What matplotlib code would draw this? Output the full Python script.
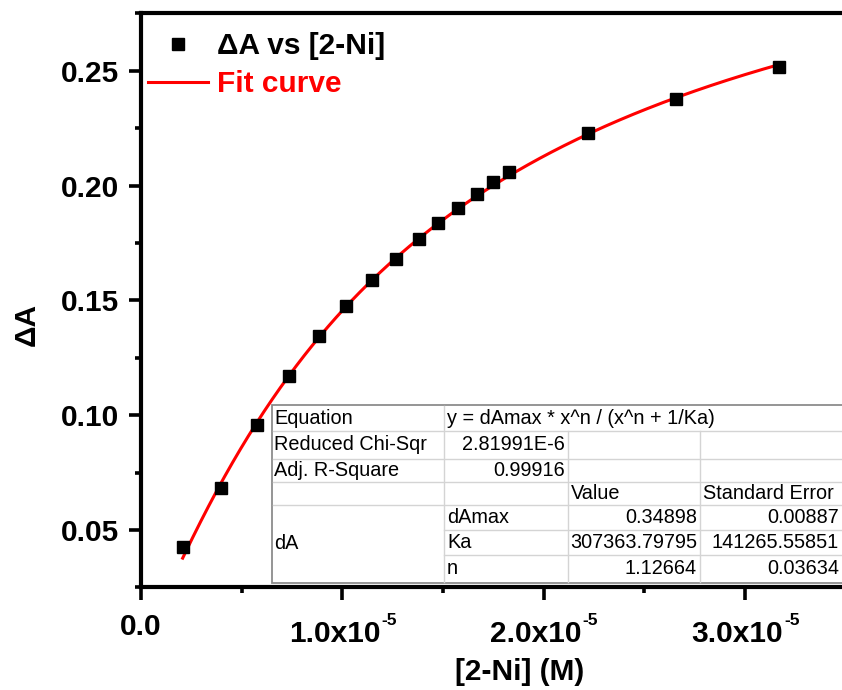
import numpy as np
import matplotlib
matplotlib.use("Agg")
import matplotlib.pyplot as plt
from matplotlib.ticker import MultipleLocator, FuncFormatter
from matplotlib.lines import Line2D
from matplotlib.patches import Rectangle

plt.rcParams["font.family"] = ["Liberation Sans", "DejaVu Sans"]

# measured data: [2-Ni] (M) vs dA
conc = [0.207e-5, 0.397e-5, 0.575e-5, 0.737e-5, 0.884e-5, 1.017e-5, 1.146e-5,
        1.265e-5, 1.380e-5, 1.477e-5, 1.576e-5, 1.668e-5, 1.750e-5, 1.830e-5,
        2.221e-5, 2.658e-5, 3.169e-5]
dA = [0.0427, 0.0682, 0.0957, 0.1172, 0.1346, 0.1475, 0.1589,
      0.1680, 0.1766, 0.1838, 0.1901, 0.1962, 0.2014, 0.2060,
      0.2229, 0.2377, 0.2516]

# x tick values and their labels (mantissa, exponent)
xticks = [0.0, 1e-5, 2e-5, 3e-5]
xtick_mant = ["0.0", "1.0x10", "2.0x10", "3.0x10"]
xtick_exp = ["", "-5", "-5", "-5"]

# fit results (as reported in the table)
equation = "y = dAmax * x^n / (x^n + 1/Ka)"
chi_sqr = "2.81991E-6"
adj_r2 = "0.99916"
param_names = ["dAmax", "Ka", "n"]
param_values = [0.34898, 307363.79795, 1.12664]
param_errors = [0.00887, 141265.55851, 0.03634]

W, H = 842, 690
fig = plt.figure(figsize=(W / 100, H / 100), dpi=100)

def fx(px):
    return px / W

def fy(py):
    return 1 - py / H

ax = fig.add_axes([fx(141), fy(587.4), 704.6 / W, 574.1 / H])

dAmax, Ka, n = param_values
xfit = np.linspace(conc[0], conc[-1], 300)
yfit = dAmax * xfit**n / (xfit**n + 1 / Ka)

ax.plot(xfit, yfit, color="red", lw=2.2, zorder=2)
ax.plot(conc, dA, ls="none", marker="s", ms=8.6, color="black", mec="black", zorder=3)

ax.set_xlim(0, 3.5e-5)
ax.set_ylim(0.025, 0.275)

for side in ["left", "bottom", "top"]:
    ax.spines[side].set_linewidth(3)
ax.spines["right"].set_visible(False)

ax.set_xticks(xticks)
ax.xaxis.set_minor_locator(MultipleLocator(0.5e-5))
ax.yaxis.set_major_locator(MultipleLocator(0.05))
ax.yaxis.set_minor_locator(MultipleLocator(0.025))
ax.yaxis.set_major_formatter(FuncFormatter(lambda v, p: "%.2f" % v))

ax.tick_params(which="major", direction="out", length=9, width=2.6,
               labelsize=21.5, top=False, right=False)
ax.tick_params(which="minor", direction="out", length=4.5, width=2.6,
               top=False, right=False)
ax.tick_params(axis="y", pad=6.5)
ax.tick_params(axis="x", labelbottom=False)
for lab in ax.get_yticklabels():
    lab.set_fontweight("bold")

# x tick labels with small raised exponent (Origin style)
xt = ax.get_xaxis_transform()
for v, mant, ex in zip(xticks, xtick_mant, xtick_exp):
    if ex:
        ax.annotate(mant, (v, 0), xycoords=xt, xytext=(38, -54.6),
                    textcoords="offset pixels", ha="right", va="baseline",
                    fontsize=21.5, fontweight="bold", annotation_clip=False)
        ax.annotate(ex, (v, 0), xycoords=xt, xytext=(39, -37.6),
                    textcoords="offset pixels", ha="left", va="baseline",
                    fontsize=12.5, fontweight="bold", annotation_clip=False)
    else:
        ax.annotate(mant, (v, 0), xycoords=xt, xytext=(0, -47.6),
                    textcoords="offset pixels", ha="center", va="baseline",
                    fontsize=21.5, fontweight="bold", annotation_clip=False)

ax.set_xlabel("[2-Ni] (M)", fontsize=21.5, fontweight="bold", va="center")
ax.xaxis.set_label_coords((520 - 141) / 704.6, (587.4 - 672) / 574.1)
ax.set_ylabel("\u0394A", fontsize=21.5, fontweight="bold", va="center")
ax.yaxis.set_label_coords((27 - 141) / 704.6, (587.4 - 324) / 574.1)

handles = [Line2D([], [], ls="none", marker="s", ms=8, color="black"),
           Line2D([], [], color="red", lw=2.2)]
leg = ax.legend(handles, ["\u0394A vs [2-Ni]", "Fit curve"], loc="upper left",
                bbox_to_anchor=(fx(148), fy(32)), bbox_transform=fig.transFigure,
                frameon=False, borderpad=0, borderaxespad=0, handlelength=2.0,
                handletextpad=0.3, labelspacing=0.35,
                prop={"size": 21.5, "weight": "bold"})
leg.get_texts()[1].set_color("red")

# fit results table
tl, tr, tt, tb = 271.5, 850, 405, 582.5
c1, c2, c3 = 444, 568, 700
rows = [405, 431, 459, 482, 505, 530, 555, 582.5]
grid = "#d4d4d4"

fig.add_artist(Rectangle((fx(tl), fy(tb)), fx(tr) - fx(tl), fy(tt) - fy(tb),
                         transform=fig.transFigure, facecolor="white",
                         edgecolor="#8c8c8c", lw=1.3, zorder=4))

def hline(py, x0, x1):
    fig.add_artist(Line2D([fx(x0), fx(x1)], [fy(py), fy(py)], color=grid,
                          lw=1.0, transform=fig.transFigure, zorder=5))

def vline(px, y0, y1):
    fig.add_artist(Line2D([fx(px), fx(px)], [fy(y0), fy(y1)], color=grid,
                          lw=1.0, transform=fig.transFigure, zorder=5))

for r in rows[1:5]:
    hline(r, tl + 1, tr)
for r in rows[5:7]:
    hline(r, c1, tr)
vline(c1, tt + 1, tb - 1)
vline(c2, rows[1], tb - 1)
vline(c3, rows[1], tb - 1)

fs = 14.3

def cell(px, py, s, ha="left"):
    fig.text(fx(px), fy(py), s, ha=ha, va="center", fontsize=fs,
             color="black", zorder=6)

def mid(i):
    return (rows[i] + rows[i + 1]) / 2

cell(274, mid(0), "Equation")
cell(447, mid(0), equation)
cell(274, mid(1), "Reduced Chi-Sqr")
cell(565, mid(1), chi_sqr, ha="right")
cell(274, mid(2), "Adj. R-Square")
cell(565, mid(2), adj_r2, ha="right")
cell(571, mid(3), "Value")
cell(703, mid(3), "Standard Error")
cell(274, (rows[4] + rows[7]) / 2, "dA")
for i, (nm, v, e) in enumerate(zip(param_names, param_values, param_errors)):
    cell(447, mid(4 + i), nm)
    cell(697, mid(4 + i), "%.5f" % v, ha="right")
    cell(839, mid(4 + i), "%.5f" % e, ha="right")

fig.savefig("out.png", dpi=100)
